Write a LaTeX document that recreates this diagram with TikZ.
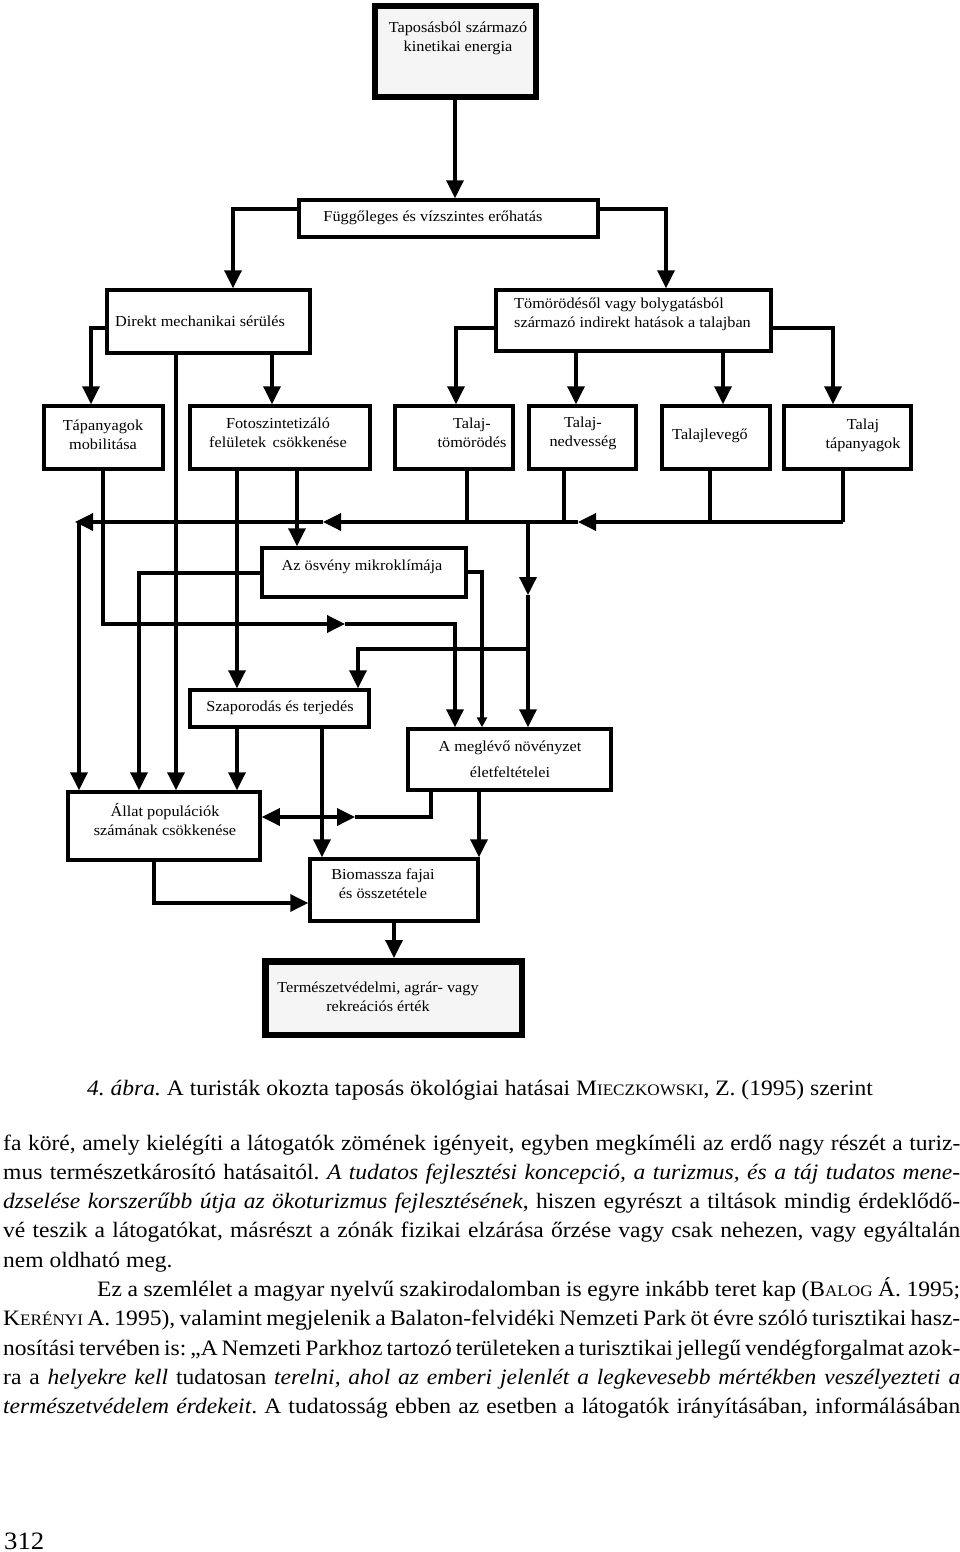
\documentclass[tikz,border=0pt]{standalone}
\usepackage{fontspec}
\setmainfont[FakeStretch=1.07]{Liberation Serif}
\usetikzlibrary{arrows.meta}
\frenchspacing
\tikzset{
 box/.style={draw, line width=3.5pt, inner sep=0pt},
 thickbox/.style={draw, line width=6.5pt, fill=black!4, inner sep=0pt},
 lbl/.style={font=\fontsize{15.2}{19}\selectfont, align=center, inner sep=0pt},
 con/.style={line width=3.5pt},
 arr/.style={con, -{Triangle[length=18pt,width=17pt]}},
 sarr/.style={con, -{Triangle[length=10pt,width=10pt]}},
 body/.style={anchor=base west, inner sep=0pt, font=\fontsize{22}{29}\selectfont},
}
\newcommand\SC[2]{#1{\fontsize{16}{18}\selectfont #2}}
\begin{document}
\begin{tikzpicture}[x=1pt,y=-1pt]
\fill[white] (0,0) rectangle (960,1552);
\useasboundingbox (0,0) rectangle (960,1552);

% boxes
\node[thickbox, minimum width=161pt, minimum height=91pt] (A) at (455.5,51.5) {};
\node[box, minimum width=299pt, minimum height=37pt] (B) at (448.5,218.5) {};
\node[box, minimum width=203pt, minimum height=63pt] (C) at (208.5,321.5) {};
\node[box, minimum width=275pt, minimum height=61pt] (D) at (633.5,320.5) {};
\node[box, minimum width=119pt, minimum height=63pt] (T1) at (103.5,437.5) {};
\node[box, minimum width=180pt, minimum height=63pt] (T2) at (280,437.5) {};
\node[box, minimum width=118pt, minimum height=63pt] (T3) at (454,437.5) {};
\node[box, minimum width=107pt, minimum height=63pt] (T4) at (582.5,437.5) {};
\node[box, minimum width=108pt, minimum height=63pt] (T5) at (716,437.5) {};
\node[box, minimum width=127pt, minimum height=63pt] (T6) at (847.5,437.5) {};
\node[box, minimum width=204pt, minimum height=49pt] (M) at (364,572.5) {};
\node[box, minimum width=179pt, minimum height=37pt] (S) at (279.5,708.5) {};
\node[box, minimum width=203pt, minimum height=61pt] (N) at (509.5,759.5) {};
\node[box, minimum width=192pt, minimum height=68pt] (L) at (164,826) {};
\node[box, minimum width=168pt, minimum height=62pt] (Bi) at (394,890) {};
\node[thickbox, minimum width=256.5pt, minimum height=73.5pt] (Tv) at (393.5,998) {};

% labels
\node[lbl] (At) at (458,38) {Taposásból származó\\kinetikai energia};
\node[lbl] (Bt) at (433,218) {Függőleges és vízszintes erőhatás};
\node[lbl, anchor=west] (Ct) at (115,321) {Direkt mechanikai sérülés};
\node[lbl, anchor=west, align=left] (Dt) at (514,314) {Tömörödésől vagy bolygatásból\\származó indirekt hatások a talajban};
\node[lbl] (T1t) at (103,435) {Tápanyagok\\mobilitása};
\node[lbl] (T2t) at (278,433) {Fotoszintetizáló\\felületek\, csökkenése};
\node[lbl] (T3t) at (472,433) {Talaj-\\tömörödés};
\node[lbl] (T4t) at (583,433) {Talaj-\\nedvesség};
\node[lbl] (T5t) at (710,436) {Talajlevegő};
\node[lbl] (T6t) at (863,435) {Talaj\\tápanyagok};
\node[lbl] (Mt) at (362,567) {Az ösvény mikroklímája};
\node[lbl] (St) at (280,708) {Szaporodás és terjedés};
\node[lbl, font=\fontsize{15.2}{26}\selectfont] (Nt) at (510,759) {A meglévő növényzet\\életfeltételei};
\node[lbl] (Lt) at (165,820) {Állat populációk\\számának csökkenése};
\node[lbl] (Bit) at (383,884) {Biomassza fajai\\és összetétele};
\node[lbl] (Tvt) at (378,997) {Természetvédelmi, agrár- vagy\\rekreációs érték};

% connectors
\draw[arr] (A.south -| 455,0) -- (B.north -| 455,0);
\draw[arr] (B.west |- 0,209) -| (C.north -| 233,0);
\draw[arr] (B.east |- 0,209) -| (D.north -| 666,0);
\draw[arr] (C.west |- 0,328) -| (T1.north -| 91,0);
\draw[arr] (C.south -| 272,0) -- (T2.north -| 272,0);
\draw[arr] (C.south -| 176,0) -- (L.north -| 176,0);
\draw[arr] (D.west |- 0,328) -| (T3.north -| 456,0);
\draw[arr] (D.south -| 576,0) -- (T4.north -| 576,0);
\draw[arr] (D.south -| 723,0) -- (T5.north -| 723,0);
\draw[arr] (D.east |- 0,328) -| (T6.north -| 833,0);

% collecting bus
\draw[con] (T3.south -| 467,0) -- (467,522);
\draw[con] (T4.south -| 564,0) -- (564,522);
\draw[con] (T5.south -| 710,0) -- (710,522);
\draw[con] (T6.south -| 843,0) -- (843,522);
\coordinate (bR) at (843,522);
\coordinate (bM1) at (578,522);
\coordinate (bM2) at (323,522);
\coordinate (bL) at (75,522);
\draw[arr] (bR) -- (bM1);
\draw[arr] (bM1) -- (bM2);
\draw[arr] (bM2) -- (bL);
\draw[arr] (79,522) -- (L.north -| 79,0);
\coordinate (dM) at (528,595);
\draw[arr] (528,522) -- (dM);
\draw[arr] (dM) -- (N.north -| 528,0);
\draw[arr] (528,649) -| (S.north -| 358,0);

% from T1, T2
\coordinate (tM) at (345,624);
\draw[arr] (T1.south -| 103,0) |- (tM);
\draw[arr] (tM) -| (N.north -| 455,0);
\draw[arr] (T2.south -| 237,0) -- (S.north -| 237,0);
\draw[arr] (T2.south -| 297,0) -- (M.north -| 297,0);

% from M
\draw[arr] (M.west |- 0,573) -| (L.north -| 139,0);
\draw[sarr] (M.east |- 0,572) -| (N.north -| 482,0);

% from S
\draw[arr] (S.south -| 237,0) -- (L.north -| 237,0);
\draw[arr] (S.south -| 322,0) -- (Bi.north -| 322,0);

% from N
\coordinate (nM) at (355,817);
\draw[con, {Triangle[length=18pt,width=17pt]}-{Triangle[length=18pt,width=17pt]}] (L.east |- nM) -- (nM);
\draw[con] (nM) -| (N.south -| 431,0);
\draw[arr] (N.south -| 479,0) -- (Bi.north -| 479,0);

% from L, Bi
\draw[arr] (L.south -| 154,0) |- (Bi.west |- 0,903);
\draw[arr] (Bi.south -| 394,0) -- (Tv.north -| 394,0);

% caption
\node[anchor=base, inner sep=0pt, font=\fontsize{22}{29}\selectfont] (cap) at (480,1095)
 {\textit{4. ábra.} A turisták okozta taposás ökológiai hatásai \SC{M}{IECZKOWSKI}, Z. (1995) szerint};

% body text
\node[body] (l1) at (3,1150) {\makebox[957pt][s]{fa köré, amely kielégíti a látogatók zömének igényeit, egyben megkíméli az erdő nagy részét a turiz-}};
\node[body] (l2) at (3,1179.3) {\makebox[957pt][s]{mus természetkárosító hatásaitól. \textit{A tudatos fejlesztési koncepció, a turizmus, és a táj tudatos mene-}}};
\node[body] (l3) at (3,1208.6) {\makebox[957pt][s]{\textit{dzselése korszerűbb útja az ökoturizmus fejlesztésének}, hiszen egyrészt a tiltások mindig érdeklődő-}};
\node[body] (l4) at (3,1237.9) {\makebox[957pt][s]{vé teszik a látogatókat, másrészt a zónák fizikai elzárása őrzése vagy csak nehezen, vagy egyáltalán}};
\node[body] (l5) at (3,1267.2) {nem oldható meg.};
\node[body] (l6) at (3,1296.5) {\makebox[957pt][s]{\hspace*{94pt}Ez a szemlélet a magyar nyelvű szakirodalomban is egyre inkább teret kap (\SC{B}{ALOG} Á. 1995;}};
\node[body] (l7) at (3,1325.8) {\makebox[957pt][s]{\SC{K}{ERÉNYI} A. 1995), valamint megjelenik a Balaton-felvidéki Nemzeti Park öt évre szóló turisztikai hasz-}};
\node[body] (l8) at (3,1355.1) {\makebox[957pt][s]{nosítási tervében is: „A Nemzeti Parkhoz tartozó területeken a turisztikai jellegű vendégforgalmat azok-}};
\node[body] (l9) at (3,1384.4) {\makebox[957pt][s]{ra a \textit{helyekre kell} tudatosan \textit{terelni, ahol az emberi jelenlét a legkevesebb mértékben veszélyezteti a}}};
\node[body] (l10) at (3,1413.7) {\makebox[957pt][s]{\textit{természetvédelem érdekeit}. A tudatosság ebben az esetben a látogatók irányításában, informálásában}};

\node[body, font=\fontsize{25}{29}\selectfont] (pg) at (4,1549) {312};
\end{tikzpicture}
\end{document}
